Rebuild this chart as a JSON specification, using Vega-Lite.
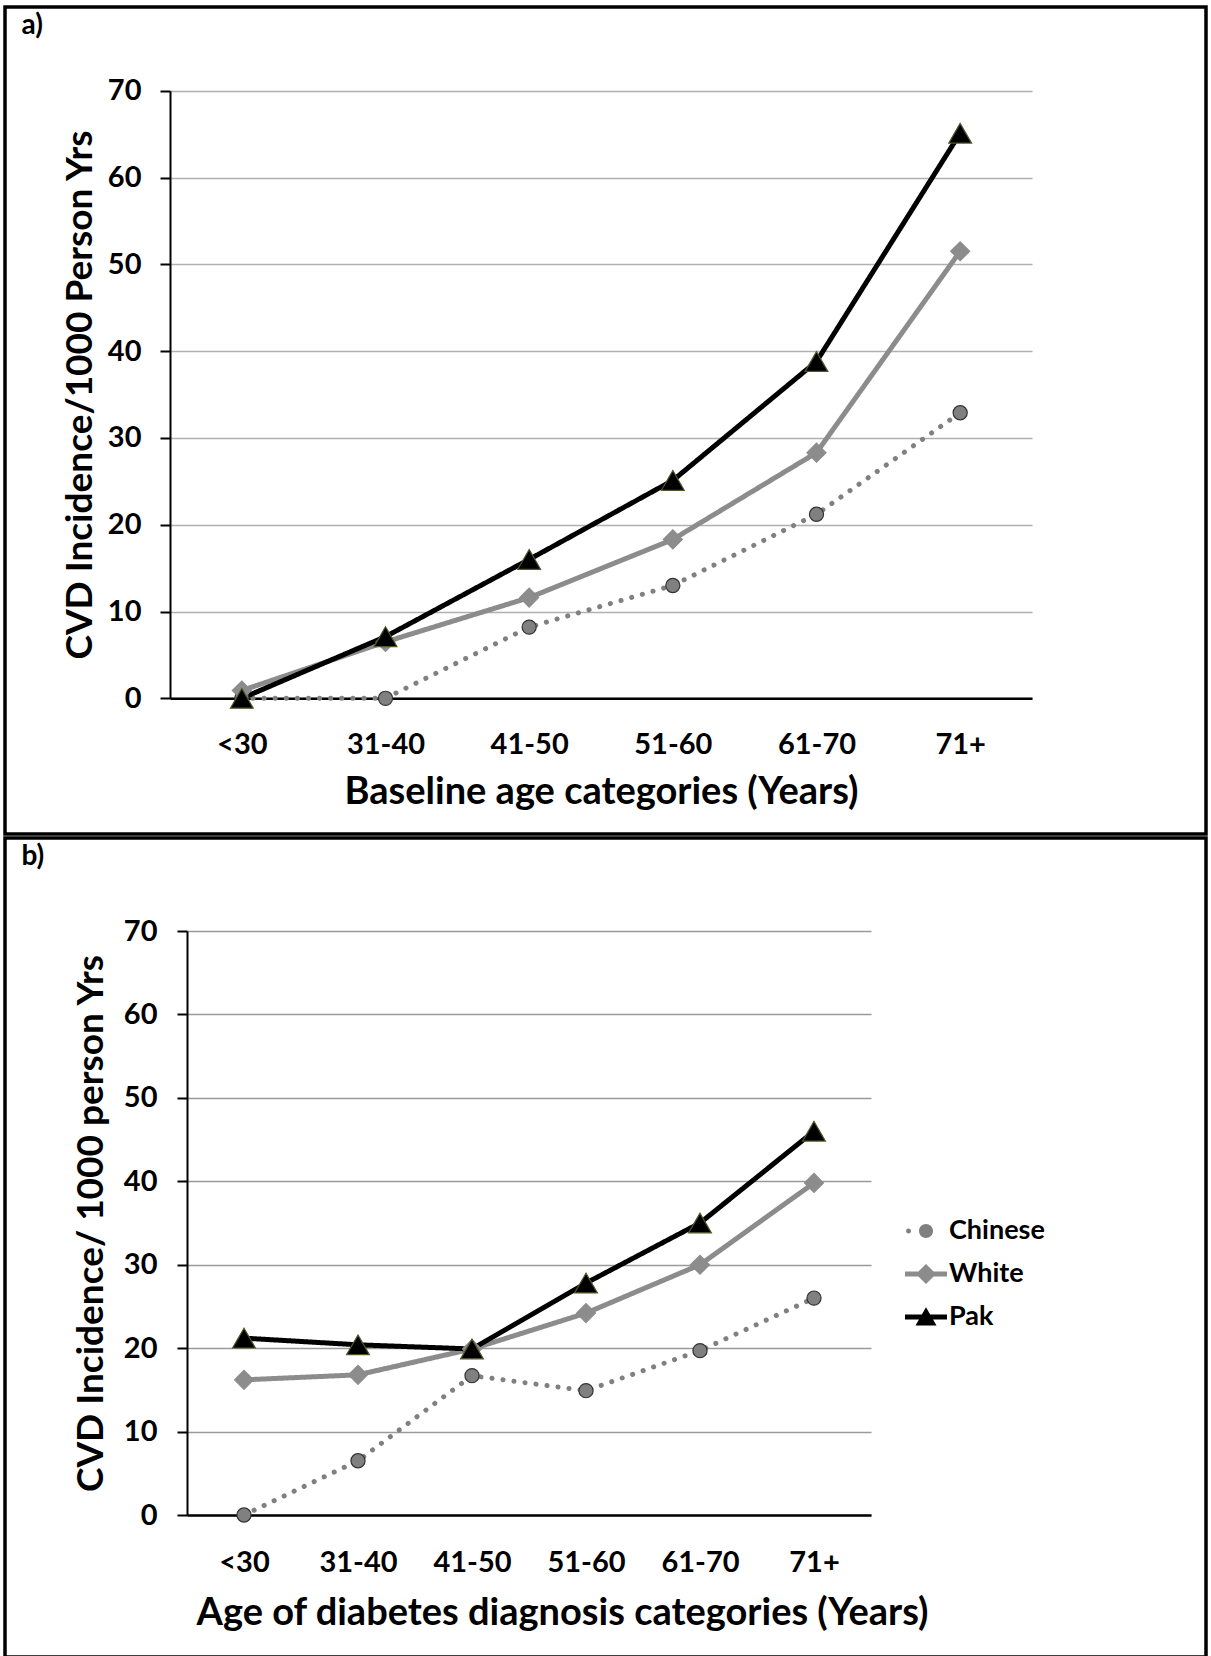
{
  "$schema": "https://vega.github.io/schema/vega-lite/v6.json",
  "padding": {"left": 3, "top": 5, "right": 0, "bottom": 0},
  "autosize": {"type": "pad"},
  "background": "white",
  "spacing": 0,
  "config": {
    "view": {"stroke": "black", "strokeWidth": 3.5},
    "font": "Lato",
    "axis": {"labelFont": "Lato", "titleFont": "Lato", "labelColor": "black", "titleColor": "black", "labelFontWeight": "bold", "titleFontWeight": "bold"},
    "legend": {"labelFont": "Lato", "labelFontWeight": "bold", "labelColor": "black"}
  },
  "data": {"values": [
    {"panel": "a", "age": "<30", "group": "Chinese", "value": 0},
    {"panel": "a", "age": "31-40", "group": "Chinese", "value": 0},
    {"panel": "a", "age": "41-50", "group": "Chinese", "value": 8.2},
    {"panel": "a", "age": "51-60", "group": "Chinese", "value": 13.0},
    {"panel": "a", "age": "61-70", "group": "Chinese", "value": 21.2},
    {"panel": "a", "age": "71+", "group": "Chinese", "value": 32.9},
    {"panel": "a", "age": "<30", "group": "White", "value": 0.9},
    {"panel": "a", "age": "31-40", "group": "White", "value": 6.5},
    {"panel": "a", "age": "41-50", "group": "White", "value": 11.6},
    {"panel": "a", "age": "51-60", "group": "White", "value": 18.3},
    {"panel": "a", "age": "61-70", "group": "White", "value": 28.3},
    {"panel": "a", "age": "71+", "group": "White", "value": 51.5},
    {"panel": "a", "age": "<30", "group": "Pak", "value": 0},
    {"panel": "a", "age": "31-40", "group": "Pak", "value": 7.1},
    {"panel": "a", "age": "41-50", "group": "Pak", "value": 16.0},
    {"panel": "a", "age": "51-60", "group": "Pak", "value": 25.1},
    {"panel": "a", "age": "61-70", "group": "Pak", "value": 38.8},
    {"panel": "a", "age": "71+", "group": "Pak", "value": 65.1},
    {"panel": "b", "age": "<30", "group": "Chinese", "value": 0},
    {"panel": "b", "age": "31-40", "group": "Chinese", "value": 6.5},
    {"panel": "b", "age": "41-50", "group": "Chinese", "value": 16.7},
    {"panel": "b", "age": "51-60", "group": "Chinese", "value": 14.9},
    {"panel": "b", "age": "61-70", "group": "Chinese", "value": 19.7},
    {"panel": "b", "age": "71+", "group": "Chinese", "value": 26.0},
    {"panel": "b", "age": "<30", "group": "White", "value": 16.2},
    {"panel": "b", "age": "31-40", "group": "White", "value": 16.8},
    {"panel": "b", "age": "41-50", "group": "White", "value": 19.9},
    {"panel": "b", "age": "51-60", "group": "White", "value": 24.2},
    {"panel": "b", "age": "61-70", "group": "White", "value": 30.0},
    {"panel": "b", "age": "71+", "group": "White", "value": 39.8},
    {"panel": "b", "age": "<30", "group": "Pak", "value": 21.2},
    {"panel": "b", "age": "31-40", "group": "Pak", "value": 20.4},
    {"panel": "b", "age": "41-50", "group": "Pak", "value": 19.9},
    {"panel": "b", "age": "51-60", "group": "Pak", "value": 27.8},
    {"panel": "b", "age": "61-70", "group": "Pak", "value": 35.0},
    {"panel": "b", "age": "71+", "group": "Pak", "value": 46.0}
  ]},
  "resolve": {"scale": {"color": "independent", "shape": "independent", "strokeDash": "independent", "stroke": "independent", "size": "independent", "fill": "independent"}},
  "vconcat": [
    {
      "width": 1201,
      "height": 827,
      "transform": [{"filter": "datum.panel === 'a'"}],
      "encoding": {
        "x": {"field": "age", "type": "ordinal", "sort": ["<30", "31-40", "41-50", "51-60", "61-70", "71+"],
          "scale": {"type": "point", "range": [165, 1027], "padding": 0.5},
          "axis": {"title": "Baseline age categories (Years)", "orient": "bottom", "offset": -135.7, "ticks": false, "tickSize": 0, "grid": false,
            "domainColor": "black", "domainWidth": 2.5, "labelAngle": 0, "labelFontSize": 29, "labelBaseline": "alphabetic", "labelPadding": 55,
            "titleFontSize": 38, "titleBaseline": "alphabetic", "titleY": 105}},
        "y": {"field": "value", "type": "quantitative",
          "scale": {"domain": [0, 70], "range": [691.3, 83.7], "nice": false},
          "axis": {"title": "CVD Incidence/1000 Person Yrs", "offset": -165, "values": [0, 10, 20, 30, 40, 50, 60, 70],
            "grid": true, "gridColor": "#b0b0b0", "gridWidth": 1.5,
            "domainColor": "black", "domainWidth": 2, "tickColor": "black", "tickWidth": 2, "tickSize": 10,
            "labelFontSize": 29, "labelPadding": 19,
            "titleFontSize": 37, "titleX": -79, "titleBaseline": "alphabetic"}}
      },
      "resolve": {"axis": {"x": "independent"}},
      "layer": [
        {"mark": {"type": "line", "strokeWidth": 5, "strokeCap": "round", "strokeJoin": "round"},
          "encoding": {
            "color": {"field": "group", "type": "nominal", "scale": {"domain": ["Chinese", "White", "Pak"], "range": ["#808080", "#8c8c8c", "#000000"]}, "legend": null},
            "strokeDash": {"field": "group", "type": "nominal", "scale": {"domain": ["Chinese", "White", "Pak"], "range": [[0.1, 11], [1, 0], [1, 0]]}, "legend": null}
          }},
        {"mark": {"type": "point", "filled": true, "opacity": 1, "strokeWidth": 1.2},
          "encoding": {
            "x": {"field": "age", "type": "ordinal", "sort": ["<30", "31-40", "41-50", "51-60", "61-70", "71+"],
              "scale": {"type": "point", "range": [165, 1027], "padding": 0.5},
              "axis": {"orient": "top", "labels": false, "ticks": false, "domain": false, "grid": false,
                "title": "a)", "titleX": 16, "titleY": 26, "titleAlign": "left", "titleAnchor": "start", "titleBaseline": "alphabetic", "titleAngle": 0, "titleFontSize": 28}},
            "color": {"field": "group", "type": "nominal", "scale": {"domain": ["Chinese", "White", "Pak"], "range": ["#808080", "#8c8c8c", "#000000"]}, "legend": null},
            "shape": {"field": "group", "type": "nominal", "scale": {"domain": ["Chinese", "White", "Pak"], "range": ["circle", "diamond", "triangle-up"]}, "legend": null},
            "stroke": {"field": "group", "type": "nominal", "scale": {"domain": ["Chinese", "White", "Pak"], "range": ["#333333", "#8c8c8c", "#55552a"]}, "legend": null},
            "size": {"field": "group", "type": "nominal", "scale": {"domain": ["Chinese", "White", "Pak"], "range": [200, 520, 540]}, "legend": null}
          }}
      ]
    },
    {
      "width": 1201,
      "height": 819,
      "transform": [{"filter": "datum.panel === 'b'"}],
      "encoding": {
        "x": {"field": "age", "type": "ordinal", "sort": ["<30", "31-40", "41-50", "51-60", "61-70", "71+"],
          "scale": {"type": "point", "range": [182, 866], "padding": 0.5},
          "axis": {"title": "Age of diabetes diagnosis categories (Years)", "orient": "bottom", "offset": -142, "ticks": false, "tickSize": 0, "grid": false,
            "domainColor": "black", "domainWidth": 2.5, "labelAngle": 0, "labelFontSize": 29, "labelBaseline": "alphabetic", "labelPadding": 56,
            "titleFontSize": 38, "titleBaseline": "alphabetic", "titleY": 109, "titleX": 557}},
        "y": {"field": "value", "type": "quantitative",
          "scale": {"domain": [0, 70], "range": [677, 93], "nice": false},
          "axis": {"title": "CVD Incidence/ 1000 person Yrs", "offset": -182, "values": [0, 10, 20, 30, 40, 50, 60, 70],
            "grid": true, "gridColor": "#9a9a9a", "gridWidth": 1.5,
            "domainColor": "black", "domainWidth": 2, "tickColor": "black", "tickWidth": 2, "tickSize": 10,
            "labelFontSize": 29, "labelPadding": 20,
            "titleFontSize": 37, "titleX": -85, "titleBaseline": "alphabetic"}}
      },
      "resolve": {"scale": {"shape": "independent", "color": "independent"}, "axis": {"x": "independent"}},
      "layer": [
        {"mark": {"type": "line", "strokeWidth": 5, "strokeCap": "round", "strokeJoin": "round"},
          "encoding": {
            "color": {"field": "group", "type": "nominal", "scale": {"domain": ["Chinese", "White", "Pak"], "range": ["#808080", "#8c8c8c", "#000000"]}, "legend": null},
            "strokeDash": {"field": "group", "type": "nominal", "scale": {"domain": ["Chinese", "White", "Pak"], "range": [[0.1, 11], [1, 0], [1, 0]]}, "legend": null}
          }},
        {"mark": {"type": "point", "filled": true, "opacity": 1, "strokeWidth": 1.2},
          "encoding": {
            "x": {"field": "age", "type": "ordinal", "sort": ["<30", "31-40", "41-50", "51-60", "61-70", "71+"],
              "scale": {"type": "point", "range": [182, 866], "padding": 0.5},
              "axis": {"orient": "top", "labels": false, "ticks": false, "domain": false, "grid": false,
                "title": "b)", "titleX": 16, "titleY": 26, "titleAlign": "left", "titleAnchor": "start", "titleBaseline": "alphabetic", "titleAngle": 0, "titleFontSize": 28}},
            "color": {"field": "group", "type": "nominal", "scale": {"domain": ["Chinese", "White", "Pak"], "range": ["#808080", "#8c8c8c", "#000000"]}, "legend": null},
            "shape": {"field": "group", "type": "nominal", "scale": {"domain": ["Chinese", "White", "Pak"], "range": ["circle", "diamond", "triangle-up"]}, "legend": null},
            "stroke": {"field": "group", "type": "nominal", "scale": {"domain": ["Chinese", "White", "Pak"], "range": ["#333333", "#8c8c8c", "#55552a"]}, "legend": null},
            "size": {"field": "group", "type": "nominal", "scale": {"domain": ["Chinese", "White", "Pak"], "range": [200, 520, 540]}, "legend": null}
          }},
        {"mark": {"type": "point", "filled": true, "opacity": 0, "size": 1764, "strokeWidth": 0},
          "encoding": {
            "x": {"field": "age", "type": "ordinal", "sort": ["<30", "31-40", "41-50", "51-60", "61-70", "71+"],
              "scale": {"type": "point", "range": [182, 866], "padding": 0.5}, "axis": null},
            "shape": {"field": "group", "type": "nominal",
              "scale": {"domain": ["Chinese", "White", "Pak"], "range": [
                "M-0.95,0a0.12,0.12 0 1,1 0.24,0a0.12,0.12 0 1,1 -0.24,0Z M-0.333,0a0.333,0.333 0 1,1 0.666,0a0.333,0.333 0 1,1 -0.666,0Z",
                "M-1,-0.12H1V0.12H-1Z M0,-0.48L0.48,0L0,0.48L-0.48,0Z",
                "M-1,-0.12H1V0.12H-1Z M0,-0.47L0.5,0.41L-0.5,0.41Z"]},
              "legend": {"orient": "none", "legendX": 900, "legendY": 372, "title": null, "symbolSize": 1764, "symbolOpacity": 1, "symbolStrokeWidth": 0, "labelFontSize": 27, "labelOffset": 2, "rowPadding": 9}},
            "color": {"field": "group", "type": "nominal", "scale": {"domain": ["Chinese", "White", "Pak"], "range": ["#808080", "#8c8c8c", "#000000"]},
              "legend": {"orient": "none", "legendX": 900, "legendY": 372, "title": null, "symbolSize": 1764, "symbolOpacity": 1, "symbolStrokeWidth": 0, "labelFontSize": 27, "labelOffset": 2, "rowPadding": 9}}
          }}
      ]
    }
  ]
}
